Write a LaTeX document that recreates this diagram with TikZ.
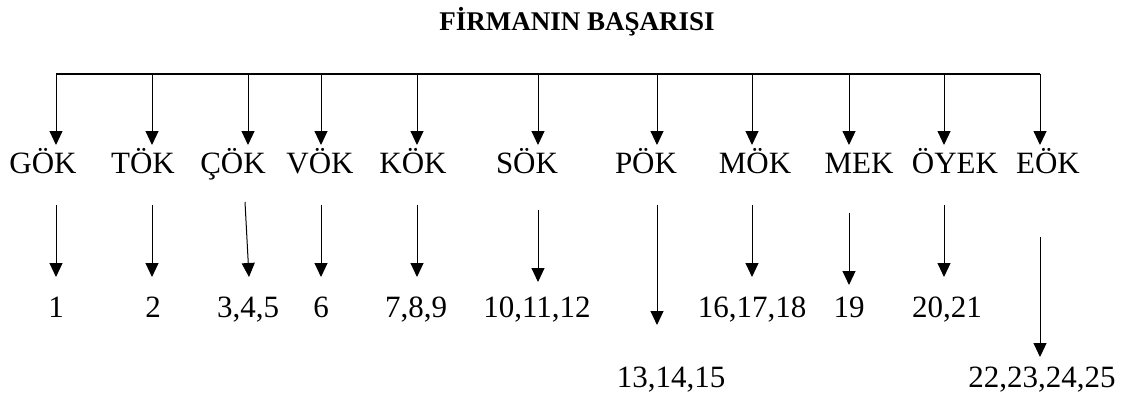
\documentclass[tikz,border=0pt]{standalone}
\usepackage{fontspec}
\setmainfont{Liberation Serif}
\usetikzlibrary{arrows.meta}
\begin{document}
\begin{tikzpicture}[x=1pt,y=-1pt,
  lbl/.style={anchor=base,inner sep=0pt,font=\fontsize{31}{36}\selectfont},
  ttl/.style={anchor=base,inner sep=0pt,font=\fontsize{27}{32}\selectfont\bfseries},
  arr/.style={line width=1pt,-{Triangle[length=14pt,width=13pt]}},
  bar/.style={line width=1.2pt}]
\useasboundingbox (0,0) rectangle (1139,397);
% title
\node[ttl] (title) at (577,30) {FİRMANIN BAŞARISI};
% category labels
\node[lbl] (gok) at (43,173) {GÖK};
\node[lbl] (tok) at (143,173) {TÖK};
\node[lbl] (cok) at (233,173) {ÇÖK};
\node[lbl] (vok) at (320,173) {VÖK};
\node[lbl] (kok) at (413,173) {KÖK};
\node[lbl] (sok) at (527,173) {SÖK};
\node[lbl] (pok) at (646,173) {PÖK};
\node[lbl] (mok) at (755,173) {MÖK};
\node[lbl] (mek) at (859,173) {MEK};
\node[lbl] (oyek) at (955,173) {ÖYEK};
\node[lbl] (eok) at (1048,173) {EÖK};
% numbers
\node[lbl] (n1) at (56,317) {1};
\node[lbl] (n2) at (153,317) {2};
\node[lbl] (n3) at (248,317) {3,4,5};
\node[lbl] (n6) at (321,317) {6};
\node[lbl] (n7) at (416,317) {7,8,9};
\node[lbl] (n10) at (537,317) {10,11,12};
\node[lbl] (n13) at (671,387) {13,14,15};
\node[lbl] (n16) at (752,317) {16,17,18};
\node[lbl] (n19) at (849,317) {19};
\node[lbl] (n20) at (947,317) {20,21};
\node[lbl] (n22) at (1042,387) {22,23,24,25};
% top bar coordinates
\coordinate (b1) at (56,74);
\coordinate (b2) at (152,74);
\coordinate (b3) at (248,74);
\coordinate (b4) at (321,74);
\coordinate (b5) at (417,74);
\coordinate (b6) at (538,74);
\coordinate (b7) at (657,74);
\coordinate (b8) at (752,74);
\coordinate (b9) at (849,74);
\coordinate (b10) at (944,74);
\coordinate (b11) at (1040,74);
\draw[bar] (b1) -- (b11);
\foreach \b in {1,...,11} {
  \draw[arr] (b\b) -- ([yshift=-71pt]b\b);
}
% lower arrows: start and tip coordinates
\coordinate (s1) at (56,205);   \coordinate (e1) at (56,277);
\coordinate (s2) at (152,205);  \coordinate (e2) at (152,277);
\coordinate (s3) at (245,202);  \coordinate (e3) at (249,277);
\coordinate (s4) at (321,205);  \coordinate (e4) at (321,277);
\coordinate (s5) at (417,205);  \coordinate (e5) at (417,277);
\coordinate (s6) at (538,210);  \coordinate (e6) at (538,282);
\coordinate (s7) at (657,205);  \coordinate (e7) at (657,325);
\coordinate (s8) at (752,205);  \coordinate (e8) at (752,277);
\coordinate (s9) at (849,213);  \coordinate (e9) at (849,285);
\coordinate (s10) at (944,205); \coordinate (e10) at (944,277);
\coordinate (s11) at (1040,237); \coordinate (e11) at (1040,357);
\foreach \b in {1,...,11} {
  \draw[arr] (s\b) -- (e\b);
}
\end{tikzpicture}
\end{document}
